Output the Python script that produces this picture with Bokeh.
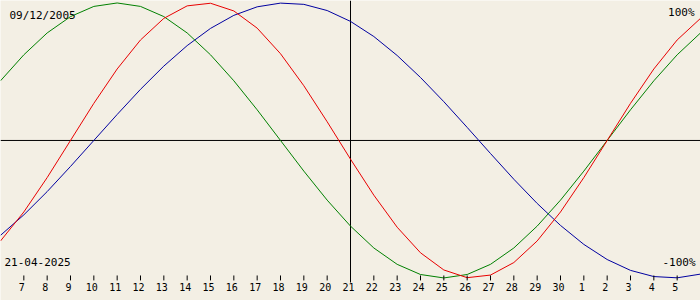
from bokeh.plotting import figure
from bokeh.models import Range1d, ColumnDataSource
from bokeh.core.properties import value
from bokeh.embed import file_html
from bokeh.resources import INLINE

birth_label = "09/12/2005"
date_label = "21-04-2025"
# days shown: 6 April .. 6 May 2025 (center = 21 April)
day_labels = ["6", "7", "8", "9", "10", "11", "12", "13", "14", "15", "16", "17", "18", "19", "20",
              "21", "22", "23", "24", "25", "26", "27", "28", "29", "30", "1", "2", "3", "4", "5", "6"]
day_offset = [-15, -14, -13, -12, -11, -10, -9, -8, -7, -6, -5, -4, -3, -2, -1,
              0, 1, 2, 3, 4, 5, 6, 7, 8, 9, 10, 11, 12, 13, 14, 15]
physical = [-73.1, -52.0, -27.0, 0.0, 27.0, 52.0, 73.1, 88.8, 97.9, 99.8, 94.2, 81.7, 63.1, 39.8, 13.6,
            -13.6, -39.8, -63.1, -81.7, -94.2, -99.8, -97.9, -88.8, -73.1, -52.0, -27.0, 0.0, 27.0, 52.0, 73.1, 88.8]
emotional = [43.4, 62.3, 78.2, 90.1, 97.5, 100.0, 97.5, 90.1, 78.2, 62.3, 43.4, 22.3, 0.0, -22.3, -43.4,
             -62.3, -78.2, -90.1, -97.5, -100.0, -97.5, -90.1, -78.2, -62.3, -43.4, -22.3, 0.0, 22.3, 43.4, 62.3, 78.2]
intellectual = [-69.0, -54.1, -37.2, -18.9, 0.0, 18.9, 37.2, 54.1, 69.0, 81.5, 91.0, 97.2, 99.9, 99.0, 94.5,
                86.6, 75.6, 61.8, 45.8, 28.2, 9.5, -9.5, -28.2, -45.8, -61.8, -75.6, -86.6, -94.5, -99.0, -99.9, -97.2]

BG = "#f3efe4"
FONT = value("DejaVu Sans Mono")

p = figure(width=700, height=300, output_backend="svg", toolbar_location=None,
           x_range=Range1d(-15, 15), y_range=Range1d(-116.4, 101.8),
           min_border=0, min_border_left=0, min_border_right=0, min_border_top=0, min_border_bottom=0)
p.background_fill_color = BG
p.border_fill_color = BG
p.outline_line_color = None
p.xaxis.visible = False
p.yaxis.visible = False
p.xgrid.visible = False
p.ygrid.visible = False

src = ColumnDataSource(dict(x=day_offset, phys=physical, emo=emotional, intel=intellectual))
# labelled days: the inner ones (edge days fall outside the window)
lab_src = ColumnDataSource(dict(x=day_offset[1:-1], lab=day_labels[1:-1]))

# axes cross
p.segment(x0=[-15], y0=[0], x1=[15], y1=[0], line_color="black", line_width=1)
p.segment(x0=[0], y0=[101.8], x1=[0], y1=[-103.3], line_color="black", line_width=1)

p.line("x", "intel", source=src, line_color="#0000a0", line_width=1)
p.line("x", "emo", source=src, line_color="#008000", line_width=1)
p.line("x", "phys", source=src, line_color="#e80000", line_width=1)

# day ticks (skip center, which has the long line)
tick_x = [d for d in day_offset[1:-1] if d != 0]
p.segment(x0=tick_x, y0=[-98.2] * len(tick_x), x1=tick_x, y1=[-101.8] * len(tick_x),
          line_color="black", line_width=1)
p.text(x="x", y=-106.9, text="lab", source=lab_src, text_font=FONT, text_font_size="10px",
       text_align="center", text_baseline="middle", x_offset=-2, text_color="black")

p.text(x=[-15], y=[91], text=[birth_label], text_font=FONT, text_font_size="11px",
       text_align="left", text_baseline="middle", x_offset=9, text_color="black")
p.text(x=[-15], y=[-88.7], text=[date_label], text_font=FONT, text_font_size="11px",
       text_align="left", text_baseline="middle", x_offset=4, text_color="black")
p.text(x=[15], y=[93.1], text=["100%"], text_font=FONT, text_font_size="11px",
       text_align="right", text_baseline="middle", x_offset=-6, text_color="black")
p.text(x=[15], y=[-88.7], text=["-100%"], text_font=FONT, text_font_size="11px",
       text_align="right", text_baseline="middle", x_offset=-5, text_color="black")

open("out.html", "w").write(file_html(p, INLINE))
